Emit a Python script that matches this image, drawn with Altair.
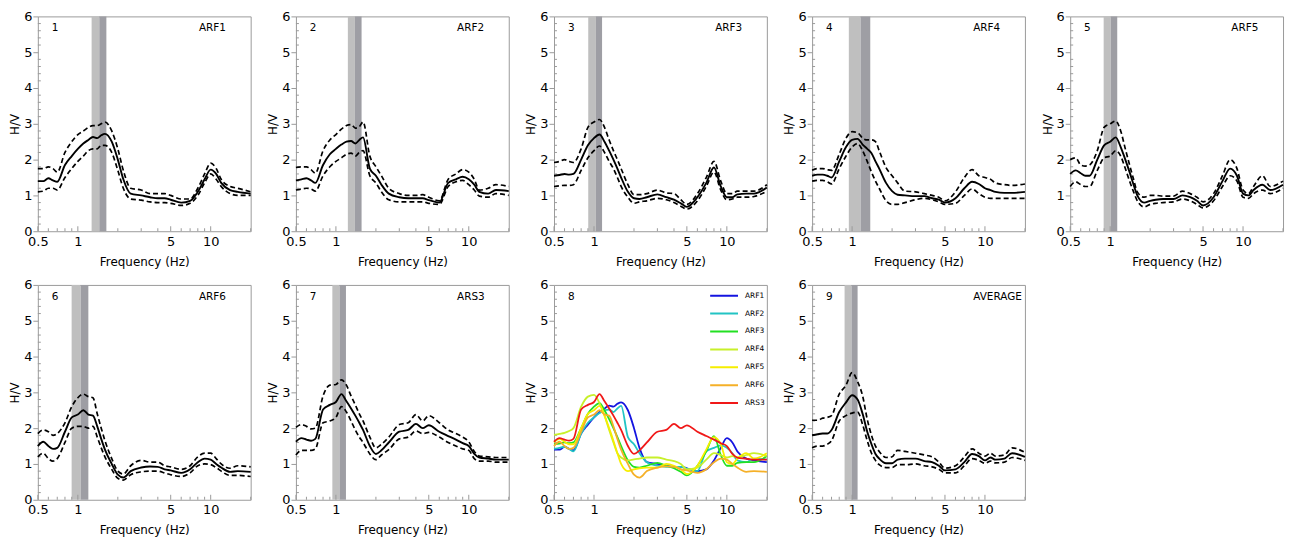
import altair as alt
import pandas as pd

# ---------------- data ----------------
FREQ = [0.5, 0.55, 0.6, 0.65, 0.7, 0.8, 0.9, 1.0, 1.1, 1.2, 1.3, 1.4, 1.5, 1.6, 1.8, 2.0, 2.2,
        2.5, 3.0, 3.5, 4.0, 4.5, 5.0, 6.0, 7.0, 8.0, 9.0, 10, 11, 12, 14, 16, 20]

ARF1_MEAN = [1.40, 1.40, 1.48, 1.42, 1.38, 1.85, 2.10, 2.30, 2.45, 2.55, 2.63, 2.60, 2.68, 2.72, 2.50, 2.00, 1.45,
             1.05, 1.00, 0.95, 0.92, 0.92, 0.88, 0.80, 0.85, 1.10, 1.45, 1.72, 1.60, 1.35, 1.15, 1.10, 1.05]
ARF1_UP = [1.75, 1.75, 1.80, 1.75, 1.65, 2.20, 2.50, 2.70, 2.80, 2.90, 2.95, 2.95, 3.00, 3.05, 2.80, 2.30, 1.70,
           1.20, 1.15, 1.05, 1.05, 1.05, 1.00, 0.90, 0.90, 1.20, 1.60, 1.90, 1.75, 1.45, 1.25, 1.20, 1.10]
ARF1_LO = [1.10, 1.12, 1.20, 1.20, 1.15, 1.50, 1.75, 1.95, 2.10, 2.25, 2.30, 2.30, 2.40, 2.40, 2.20, 1.70, 1.20,
           0.90, 0.87, 0.82, 0.80, 0.80, 0.78, 0.72, 0.78, 1.00, 1.35, 1.60, 1.45, 1.25, 1.05, 1.00, 1.00]

ARF2_MEAN = [1.42, 1.45, 1.48, 1.42, 1.35, 1.85, 2.15, 2.30, 2.42, 2.50, 2.52, 2.45, 2.55, 2.62, 1.75, 1.55, 1.30,
             1.05, 0.95, 0.92, 0.92, 0.92, 0.87, 0.80, 1.35, 1.45, 1.52, 1.45, 1.30, 1.10, 1.05, 1.15, 1.12]
ARF2_UP = [1.78, 1.80, 1.80, 1.72, 1.62, 2.25, 2.55, 2.70, 2.85, 2.95, 2.98, 2.88, 2.92, 3.05, 2.10, 1.80, 1.55,
           1.20, 1.05, 1.00, 1.00, 1.02, 0.95, 0.85, 1.45, 1.60, 1.72, 1.65, 1.45, 1.15, 1.20, 1.30, 1.25]
ARF2_LO = [1.15, 1.18, 1.20, 1.18, 1.12, 1.55, 1.80, 1.95, 2.05, 2.15, 2.18, 2.10, 2.20, 2.25, 1.55, 1.35, 1.10,
           0.88, 0.82, 0.82, 0.82, 0.82, 0.78, 0.75, 1.25, 1.38, 1.42, 1.30, 1.15, 0.98, 0.95, 1.05, 1.00]

ARF3_MEAN = [1.55, 1.57, 1.60, 1.58, 1.60, 2.00, 2.40, 2.60, 2.70, 2.50, 2.25, 2.00, 1.75, 1.50, 1.10, 0.92, 0.90,
             0.95, 1.03, 0.95, 0.88, 0.78, 0.68, 0.95, 1.35, 1.78, 1.25, 0.95, 0.95, 1.03, 1.05, 1.05, 1.22]
ARF3_UP = [1.92, 1.95, 2.00, 1.95, 1.92, 2.30, 2.90, 3.05, 3.12, 2.90, 2.55, 2.25, 2.00, 1.75, 1.30, 1.02, 1.02,
           1.05, 1.15, 1.07, 1.05, 0.88, 0.75, 1.05, 1.50, 1.95, 1.40, 1.05, 1.05, 1.12, 1.12, 1.12, 1.30]
ARF3_LO = [1.25, 1.27, 1.28, 1.28, 1.30, 1.70, 2.05, 2.25, 2.38, 2.20, 1.95, 1.75, 1.50, 1.25, 0.95, 0.78, 0.82,
           0.85, 0.92, 0.88, 0.80, 0.70, 0.62, 0.85, 1.25, 1.65, 1.15, 0.88, 0.90, 0.95, 0.95, 0.97, 1.12]

ARF4_MEAN = [1.55, 1.58, 1.58, 1.55, 1.50, 1.95, 2.35, 2.55, 2.58, 2.42, 2.30, 2.18, 1.95, 1.75, 1.35, 1.12, 1.02,
             1.00, 0.98, 0.98, 0.92, 0.88, 0.80, 0.92, 1.20, 1.38, 1.32, 1.20, 1.15, 1.10, 1.07, 1.07, 1.10]
ARF4_UP = [1.70, 1.75, 1.75, 1.72, 1.70, 2.15, 2.60, 2.78, 2.75, 2.60, 2.55, 2.55, 2.50, 2.25, 1.78, 1.55, 1.35,
           1.12, 1.10, 1.05, 1.00, 0.95, 0.85, 1.10, 1.50, 1.72, 1.55, 1.50, 1.45, 1.35, 1.30, 1.28, 1.32]
ARF4_LO = [1.40, 1.42, 1.42, 1.38, 1.32, 1.75, 2.10, 2.35, 2.45, 2.25, 1.95, 1.65, 1.40, 1.20, 0.85, 0.75, 0.75,
           0.80, 0.88, 0.92, 0.88, 0.82, 0.75, 0.78, 1.00, 1.18, 1.05, 0.95, 0.92, 0.92, 0.92, 0.92, 0.92]

ARF5_MEAN = [1.60, 1.70, 1.62, 1.55, 1.55, 2.00, 2.40, 2.50, 2.62, 2.35, 2.00, 1.65, 1.30, 1.00, 0.80, 0.85, 0.88,
             0.90, 0.90, 1.00, 0.95, 0.85, 0.72, 0.95, 1.40, 1.75, 1.55, 1.05, 1.00, 1.15, 1.30, 1.15, 1.30]
ARF5_UP = [2.00, 2.05, 1.85, 1.82, 1.85, 2.25, 2.90, 3.00, 3.08, 2.80, 2.30, 1.85, 1.45, 1.10, 0.95, 1.00, 1.00,
           0.98, 0.98, 1.12, 1.05, 0.95, 0.82, 1.05, 1.55, 2.00, 1.75, 1.15, 1.05, 1.25, 1.55, 1.25, 1.40]
ARF5_LO = [1.25, 1.38, 1.30, 1.25, 1.25, 1.70, 2.05, 2.10, 2.25, 2.10, 1.75, 1.40, 1.10, 0.85, 0.68, 0.75, 0.78,
           0.80, 0.82, 0.90, 0.85, 0.75, 0.65, 0.85, 1.25, 1.55, 1.40, 0.95, 0.92, 1.05, 1.15, 1.05, 1.20]

ARF6_MEAN = [1.50, 1.62, 1.50, 1.42, 1.45, 1.90, 2.30, 2.38, 2.50, 2.38, 2.35, 2.05, 1.70, 1.40, 1.00, 0.70, 0.62,
             0.80, 0.90, 0.93, 0.92, 0.85, 0.82, 0.75, 0.85, 1.05, 1.15, 1.12, 1.00, 0.90, 0.78, 0.80, 0.78]
ARF6_UP = [1.85, 1.95, 1.90, 1.80, 1.85, 2.15, 2.60, 2.85, 2.95, 2.88, 2.85, 2.40, 2.00, 1.65, 1.15, 0.80, 0.72,
           0.95, 1.10, 1.05, 1.05, 0.95, 0.92, 0.85, 0.95, 1.20, 1.30, 1.30, 1.15, 1.00, 0.88, 0.95, 0.92]
ARF6_LO = [1.20, 1.30, 1.15, 1.08, 1.15, 1.60, 2.00, 2.05, 2.05, 2.00, 2.05, 1.75, 1.45, 1.20, 0.85, 0.60, 0.55,
           0.70, 0.78, 0.80, 0.80, 0.75, 0.70, 0.65, 0.75, 0.95, 1.00, 0.98, 0.90, 0.80, 0.68, 0.68, 0.65]

ARS3_MEAN = [1.62, 1.72, 1.68, 1.65, 1.70, 2.52, 2.65, 2.73, 2.95, 2.75, 2.55, 2.35, 2.15, 1.95, 1.50, 1.28, 1.38,
             1.60, 1.90, 1.95, 2.12, 2.00, 2.08, 1.90, 1.78, 1.68, 1.58, 1.50, 1.28, 1.18, 1.15, 1.12, 1.12]
ARS3_UP = [2.02, 2.10, 2.05, 1.98, 2.00, 2.90, 3.20, 3.22, 3.35, 3.20, 2.90, 2.65, 2.40, 2.20, 1.75, 1.45, 1.55,
           1.75, 2.10, 2.15, 2.38, 2.20, 2.35, 2.15, 1.95, 1.85, 1.75, 1.62, 1.35, 1.22, 1.20, 1.18, 1.18]
ARS3_LO = [1.25, 1.38, 1.38, 1.38, 1.42, 2.15, 2.20, 2.30, 2.60, 2.45, 2.20, 1.95, 1.75, 1.60, 1.28, 1.12, 1.25,
           1.40, 1.70, 1.75, 1.92, 1.85, 1.88, 1.75, 1.60, 1.50, 1.42, 1.38, 1.15, 1.08, 1.08, 1.05, 1.05]

AVG_MEAN = [1.80, 1.83, 1.85, 1.85, 1.95, 2.45, 2.72, 2.92, 2.80, 2.40, 1.90, 1.55, 1.28, 1.15, 1.02, 1.02, 1.12,
            1.15, 1.15, 1.08, 1.05, 0.95, 0.82, 0.85, 1.05, 1.28, 1.22, 1.10, 1.18, 1.12, 1.15, 1.30, 1.20]
AVG_UP = [2.22, 2.22, 2.28, 2.30, 2.35, 2.95, 3.20, 3.55, 3.30, 2.90, 2.25, 1.80, 1.50, 1.35, 1.18, 1.20, 1.38,
          1.35, 1.30, 1.25, 1.20, 1.05, 0.88, 0.95, 1.20, 1.42, 1.30, 1.22, 1.30, 1.22, 1.25, 1.45, 1.32]
AVG_LO = [1.45, 1.50, 1.50, 1.55, 1.65, 2.20, 2.35, 2.42, 2.45, 2.10, 1.65, 1.30, 1.10, 0.98, 0.90, 0.90, 0.98,
          0.98, 1.00, 0.95, 0.92, 0.85, 0.75, 0.75, 0.95, 1.15, 1.10, 1.02, 1.08, 1.03, 1.05, 1.18, 1.10]

# the yellow-green (ARF4) curve as drawn in panel 8
OVERLAY_ARF4 = [1.81, 1.84, 1.87, 1.92, 2.00, 2.60, 2.88, 2.93, 2.70, 2.35, 1.95, 1.60, 1.30, 1.18, 1.10, 1.13,
                1.15, 1.18, 1.18, 1.12, 1.08, 1.00, 0.85, 0.90, 1.12, 1.30, 1.25, 1.18, 1.22, 1.18, 1.25, 1.30, 1.22]

# peak-frequency bands: (f0 / sigma, f0, f0 * sigma)
BAND_1 = [1.27, 1.45, 1.64]
BAND_2 = [1.23, 1.39, 1.56]
BAND_3 = [0.905, 1.034, 1.15]
BAND_4 = [0.945, 1.158, 1.37]
BAND_5 = [0.893, 1.01, 1.13]
BAND_6 = [0.898, 1.05, 1.20]
BAND_7 = [0.94, 1.064, 1.19]
BAND_9 = [0.878, 0.99, 1.10]

SITES = ["ARF1", "ARF2", "ARF3", "ARF4", "ARF5", "ARF6", "ARS3"]
SITE_COLORS = ["#1414e0", "#22c4c4", "#22e022", "#c8f02a", "#f6ee00", "#f5b028", "#f01818"]

X_MAJOR = [0.5, 1, 5, 10]
X_MINOR = [0.6, 0.7, 0.8, 0.9, 2, 3, 4, 6, 7, 8, 9, 20]
Y_MAJOR = [0, 1, 2, 3, 4, 5, 6]
Y_MINOR = [0.2, 0.4, 0.6, 0.8, 1.2, 1.4, 1.6, 1.8, 2.2, 2.4, 2.6, 2.8, 3.2, 3.4, 3.6, 3.8,
           4.2, 4.4, 4.6, 4.8, 5.2, 5.4, 5.6, 5.8]

# ---------------- style ----------------
FONT = "DejaVu Sans"
FRAME = "#9a9a9a"
LIGHT = "#bfbfbf"
DARK = "#9e9ea4"
W, H = 214, 216
HSPACE, VSPACE = 45.5, 54   # gaps between plot areas (flush bounds)

XSCALE = alt.Scale(type="log", domain=[0.5, 20], nice=False)
YSCALE = alt.Scale(domain=[0, 6], nice=False)
XAXIS = alt.Axis(values=X_MAJOR, format="~g", title="Frequency (Hz)", ticks=False, labelPadding=4,
                 labelFlush=False, domain=False, grid=False, titlePadding=8)
YAXIS = alt.Axis(values=Y_MAJOR, title="H/V", tickSize=5, tickColor=FRAME, labelPadding=1,
                 domain=False, grid=False, titlePadding=2)


def X(field):
    return alt.X(field, scale=XSCALE, axis=XAXIS)


def Y(field):
    return alt.Y(field, scale=YSCALE, axis=YAXIS)


def tick_layers():
    xmaj = alt.Chart(pd.DataFrame({"t": X_MAJOR})).mark_rule(color=FRAME, strokeWidth=1).encode(
        x=X("t:Q"), y=alt.value(H), y2=alt.value(H - 5))
    xmin = alt.Chart(pd.DataFrame({"t": X_MINOR})).mark_rule(color=FRAME, strokeWidth=1).encode(
        x=X("t:Q"), y=alt.value(H), y2=alt.value(H - 3))
    ymin = alt.Chart(pd.DataFrame({"v": Y_MINOR})).mark_rule(color=FRAME, strokeWidth=1).encode(
        y=Y("v:Q"), x=alt.value(0), x2=alt.value(3))
    return [xmaj, xmin, ymin]


def text_layer(txt, xpos):
    return alt.Chart(pd.DataFrame({"label": [txt]})).mark_text(
        align="left", baseline="middle", font=FONT, fontSize=10.5, color="black").encode(
        x=alt.value(xpos), y=alt.value(12), text="label:N")


def hv_panel(num, name, mean, up, lo, band):
    layers = []
    bdf = pd.DataFrame({"a": [band[0]], "b": [band[1]], "c": [band[2]]})
    layers.append(alt.Chart(bdf).mark_rect(fill=LIGHT).encode(x=X("a:Q"), x2="b:Q"))
    layers.append(alt.Chart(bdf).mark_rect(fill=DARK).encode(x=X("b:Q"), x2="c:Q"))
    layers += tick_layers()
    n = len(FREQ)
    ddf = pd.DataFrame({"freq": FREQ * 2, "hv": list(up) + list(lo), "bound": ["up"] * n + ["lo"] * n})
    layers.append(alt.Chart(ddf).mark_line(color="black", strokeWidth=1.7, strokeDash=[5, 3],
                                           interpolate="monotone").encode(
        x=X("freq:Q"), y=Y("hv:Q"), detail="bound:N"))
    mdf = pd.DataFrame({"freq": FREQ, "hv": mean})
    layers.append(alt.Chart(mdf).mark_line(color="black", strokeWidth=1.9, interpolate="monotone").encode(
        x=X("freq:Q"), y=Y("hv:Q")))
    layers.append(text_layer(num, 14))
    layers.append(text_layer(name, 162))
    return alt.layer(*layers).properties(width=W, height=H)


def overlay_panel(num, curves):
    rows = {"freq": [], "hv": [], "site": []}
    for site, m in zip(SITES, curves):
        rows["freq"] += FREQ
        rows["hv"] += list(m)
        rows["site"] += [site] * len(FREQ)
    odf = pd.DataFrame(rows)
    lines = alt.Chart(odf).mark_line(strokeWidth=1.8, interpolate="monotone").encode(
        x=X("freq:Q"), y=Y("hv:Q"),
        color=alt.Color("site:N", scale=alt.Scale(domain=SITES, range=SITE_COLORS),
                        legend=alt.Legend(title=None, orient="top-right", offset=2,
                                          symbolType="stroke", symbolSize=784, symbolStrokeWidth=2,
                                          clipHeight=17.6, rowPadding=0, labelFontSize=7.5,
                                          labelFont=FONT, labelColor="black", labelOffset=6,
                                          padding=0)))
    layers = tick_layers() + [lines, text_layer(num, 14)]
    return alt.layer(*layers).properties(width=W, height=H)


p1 = hv_panel("1", "ARF1", ARF1_MEAN, ARF1_UP, ARF1_LO, BAND_1)
p2 = hv_panel("2", "ARF2", ARF2_MEAN, ARF2_UP, ARF2_LO, BAND_2)
p3 = hv_panel("3", "ARF3", ARF3_MEAN, ARF3_UP, ARF3_LO, BAND_3)
p4 = hv_panel("4", "ARF4", ARF4_MEAN, ARF4_UP, ARF4_LO, BAND_4)
p5 = hv_panel("5", "ARF5", ARF5_MEAN, ARF5_UP, ARF5_LO, BAND_5)
p6 = hv_panel("6", "ARF6", ARF6_MEAN, ARF6_UP, ARF6_LO, BAND_6)
p7 = hv_panel("7", "ARS3", ARS3_MEAN, ARS3_UP, ARS3_LO, BAND_7)
p8 = overlay_panel("8", [ARF1_MEAN, ARF2_MEAN, ARF3_MEAN, OVERLAY_ARF4, ARF5_MEAN, ARF6_MEAN, ARS3_MEAN])
p9 = hv_panel("9", "AVERAGE", AVG_MEAN, AVG_UP, AVG_LO, BAND_9)

chart = alt.concat(
    p1, p2, p3, p4, p5, p6, p7, p8, p9,
    columns=5, spacing={"row": VSPACE, "column": HSPACE}, bounds="flush", padding=0
).resolve_legend(color="independent").resolve_scale(color="independent").configure_view(
    stroke=FRAME, strokeWidth=1).configure_axis(
    labelFont=FONT, titleFont=FONT, labelFontSize=13, titleFontSize=12, titleFontWeight="normal",
    labelColor="black", titleColor="black"
)

chart.save("out.html", embed_options={"renderer": "svg", "actions": False})
